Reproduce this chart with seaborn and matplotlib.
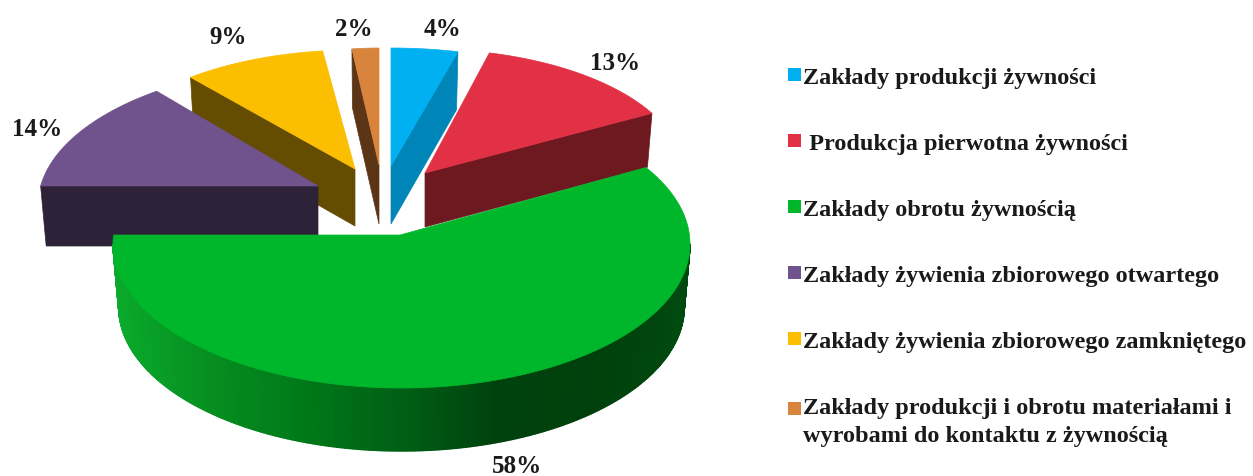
import numpy as np
import seaborn as sns
import matplotlib
import matplotlib.pyplot as plt
from matplotlib.collections import PolyCollection
from matplotlib.patches import Patch

matplotlib.use('Agg')
sns.set_theme(style="white")
plt.rcParams['font.family'] = ['Liberation Serif', 'DejaVu Serif']

# -------------------------------Dane
kategorie = [
    'Zakłady produkcji żywności',
    ' Produkcja pierwotna żywności',
    'Zakłady obrotu żywnością',
    'Zakłady żywienia zbiorowego otwartego',
    'Zakłady żywienia zbiorowego zamkniętego',
    'Zakłady produkcji i obrotu materiałami i\nwyrobami do kontaktu z żywnością',
]
wartosci = [4, 13, 58, 14, 9, 2]

# -------------------------------Kolory
kolory = sns.color_palette(['#00b0f0', '#e23144', '#00b72c', '#70528c', '#fcbe00', '#d9843c'])
kolory_boki = ['#0085b8', '#6e1820', '#00430d', '#2d2237', '#644c00', '#5c3516']
gradient_zielony = sns.blend_palette(['#0aaa2c', '#068e20', '#007818', '#005f15', '#00420d', '#00400c', '#004a0f'],
                                     as_cmap=True)

# -------------------------------Ukladanie kawalkow (wierzcholek, polosie, grubosc, przesuniecie elipsy)
srodki_x = [391, 425, 400, 318, 355, 379]
srodki_y = [167, 174, 236, 187, 170, 166]
polosie_a = [269, 259, 288.5, 290, 258, 216]
polosie_b = [118, 124, 144, 141, 119, 117]
grubosc = [58, 54, 63, 60, 57, 59]
elipsa_x = [0, 0, 1.5, 10, 0, 0]
elipsa_y = [0, 0, 9, 19, 0, 0]
zwezenie = 0.98

etykiety_xy = [(442, 29), (615, 63), (517, 467), (37, 130), (228, 37), (354, 29)]


def punkt(i, kat, dol=False):
    # kat liczony od gory zgodnie z ruchem wskazowek zegara, promien od wierzcholka do elipsy
    a, b = polosie_a[i], polosie_b[i]
    ox, oy = -elipsa_x[i] / a, -elipsa_y[i] / b
    dx, dy = np.sin(kat), -np.cos(kat)
    od = ox * dx + oy * dy
    s = -od + np.sqrt(od ** 2 + 1 - ox ** 2 - oy ** 2)
    skala = zwezenie if dol else 1.0
    x = srodki_x[i] + a * skala * s * dx
    y = srodki_y[i] + b * s * dy + (grubosc[i] if dol else 0)
    return np.column_stack([x, y])


def sciana_boczna(ax, i, kat):
    gora = punkt(i, np.array([kat]))[0]
    dol = punkt(i, np.array([kat]), dol=True)[0]
    xc, yc = srodki_x[i], srodki_y[i]
    ax.fill([xc, gora[0], dol[0], xc], [yc, gora[1], dol[1], yc + grubosc[i]],
            color=kolory_boki[i], lw=0.5)


fig = plt.figure(figsize=(12.53, 4.77), dpi=100)
ax = fig.add_axes([0, 0, 1, 1])
ax.set_xlim(0, 1253)
ax.set_ylim(477, 0)
ax.axis('off')

katy = np.cumsum([0] + wartosci) / sum(wartosci) * 2 * np.pi

for i in [4, 3, 5, 0, 1, 2]:
    start, koniec = katy[i], katy[i + 1]

    # sciany przekroju widoczne od strony widza
    if np.pi < start < 2 * np.pi:
        sciana_boczna(ax, i, start)
    if 0 < koniec < np.pi:
        sciana_boczna(ax, i, koniec)

    # zewnetrzna sciana z gradientem (kawalek przechodzacy przez przod)
    if start < np.pi < koniec:
        t = np.linspace(start, koniec, 401)
        g, d = punkt(i, t), punkt(i, t, dol=True)
        # tylko od skrajnego prawego do skrajnego lewego punktu luku
        k0, k1 = g[:, 0].argmax(), g[:, 0].argmin()
        paski = [[g[k], g[k + 1], d[k + 1], d[k]] for k in range(k0, k1)]
        wsp = (g[k0:k1, 0] + g[k0 + 1:k1 + 1, 0]) / 2
        pc = PolyCollection(paski, array=wsp, cmap=gradient_zielony, edgecolors='face', linewidths=1.0)
        pc.set_clim(g[:, 0].min(), g[:, 0].max())
        ax.add_collection(pc)

    # gorna powierzchnia
    t = np.linspace(start, koniec, 200)
    luk = punkt(i, t)
    ax.fill(np.r_[srodki_x[i], luk[:, 0]], np.r_[srodki_y[i], luk[:, 1]], color=kolory[i], lw=0.5)

for (x, y), w in zip(etykiety_xy, wartosci):
    ax.text(x, y, f'{w}%', ha='center', va='center', fontsize=18, fontweight='bold', color='#1a1a1a')

uchwyty = [Patch(facecolor=k, edgecolor='none') for k in kolory]
leg = ax.legend(uchwyty, kategorie, loc='upper left', bbox_to_anchor=(788 / 1253, 1 - 68 / 477),
                bbox_transform=fig.transFigure, frameon=False, borderaxespad=0, borderpad=0,
                handlelength=0.535, handleheight=0.45, handletextpad=0.1, labelspacing=1.85,
                prop={'family': 'Liberation Serif', 'weight': 'bold', 'size': 17.5}, labelcolor='#1a1a1a')
for tekst in leg.get_texts():
    tekst.set_linespacing(1.43)
# kwadrat ostatniej pozycji na wysokosci pierwszego wiersza
ostatni = leg.get_patches()[-1]
ostatni.set_y(ostatni.get_y() + 8.5)

plt.savefig('out.png', dpi=100)
